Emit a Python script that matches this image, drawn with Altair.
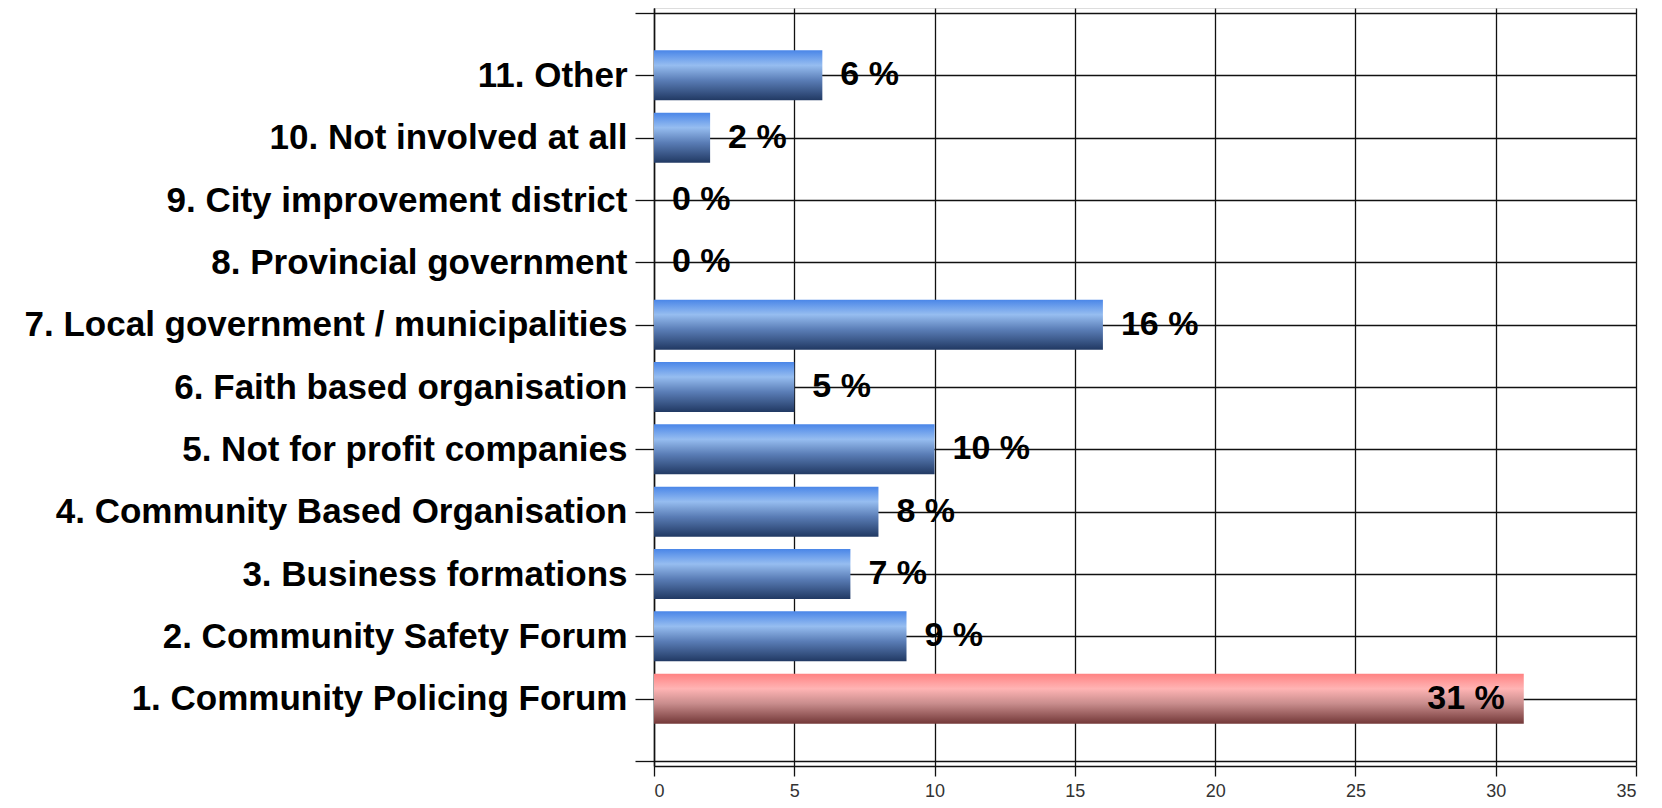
import json
import altair as alt
import pandas as pd

categories = [
    "1. Community Policing Forum",
    "2. Community Safety Forum",
    "3. Business formations",
    "4. Community Based Organisation",
    "5. Not for profit companies",
    "6. Faith based organisation",
    "7. Local government / municipalities",
    "8. Provincial government",
    "9. City improvement district",
    "10. Not involved at all",
    "11. Other",
]
values = [31, 9, 7, 8, 10, 5, 16, 0, 0, 2, 6]
groups = ["red", "blue", "blue", "blue", "blue", "blue", "blue", "blue", "blue", "blue", "blue"]
x_ticks = [0, 5, 10, 15, 20, 25, 30, 35]

df = pd.DataFrame({
    "idx": list(range(1, len(categories) + 1)),
    "category": categories,
    "value": values,
    "group": groups,
})
df["label"] = df["value"].astype(str) + " %"

axis_labels = [""] + categories + [""]
label_expr = json.dumps(axis_labels) + "[datum.value]"

blue_grad = alt.Gradient(
    gradient="linear", x1=0, y1=0, x2=0, y2=1,
    stops=[
        alt.GradientStop(offset=0, color="#4A86E8"),
        alt.GradientStop(offset=0.3, color="#96BDF0"),
        alt.GradientStop(offset=0.6, color="#5A7DB6"),
        alt.GradientStop(offset=1, color="#213963"),
    ],
)
red_grad = alt.Gradient(
    gradient="linear", x1=0, y1=0, x2=0, y2=1,
    stops=[
        alt.GradientStop(offset=0, color="#FF8282"),
        alt.GradientStop(offset=0.3, color="#FFB4B4"),
        alt.GradientStop(offset=0.6, color="#C88C8C"),
        alt.GradientStop(offset=1, color="#733838"),
    ],
)

x_enc = alt.X(
    "value:Q",
    scale=alt.Scale(domain=[0, 35], nice=False),
    axis=alt.Axis(
        values=x_ticks, title=None, grid=True, gridColor="#111111", gridWidth=1.3,
        domainColor="#111111", domainWidth=1.5, tickColor="#111111", tickSize=10,
        tickWidth=1.3, labelFont="Liberation Sans", labelFontSize=18,
        labelColor="#333333", labelPadding=6,
    ),
)
y_enc = alt.Y(
    "idx:Q",
    scale=alt.Scale(domain=[0, 12], nice=False, zero=False),
    axis=alt.Axis(
        values=list(range(0, 13)), title=None, grid=True, gridColor="#111111",
        gridWidth=1.3, domainColor="#111111", domainWidth=1.5, tickColor="#111111",
        tickSize=19, tickWidth=1.3, labelExpr=label_expr, labelFont="Liberation Sans",
        labelFontWeight="bold", labelFontSize=35, labelColor="#000000", labelPadding=8,
        labelLimit=800,
    ),
)

base = alt.Chart(df)

blue_bars = base.transform_filter(alt.datum.group == "blue").mark_bar(
    orient="horizontal", size=50, color=blue_grad
).encode(x=x_enc, y=y_enc)

red_bars = base.transform_filter(alt.datum.group == "red").mark_bar(
    orient="horizontal", size=50, color=red_grad
).encode(x=x_enc, y=y_enc)

blue_text = base.transform_filter(alt.datum.group == "blue").mark_text(
    align="left", baseline="middle", dx=18, font="Liberation Sans",
    fontWeight="bold", fontSize=34, color="#000000"
).encode(x="value:Q", y="idx:Q", text="label:N")

red_text = base.transform_filter(alt.datum.group == "red").mark_text(
    align="right", baseline="middle", dx=-19, font="Liberation Sans",
    fontWeight="bold", fontSize=34, color="#000000"
).encode(x="value:Q", y="idx:Q", text="label:N")

chart = alt.layer(blue_bars, red_bars, blue_text, red_text).properties(
    width=982,
    height=758,
    autosize=alt.AutoSizeParams(type="none"),
    padding={"left": 646, "top": 0, "right": 18, "bottom": 34},
).configure_view(stroke="transparent").configure(background="white")

chart.save("out.html", embed_options={"renderer": "svg", "actions": False})
